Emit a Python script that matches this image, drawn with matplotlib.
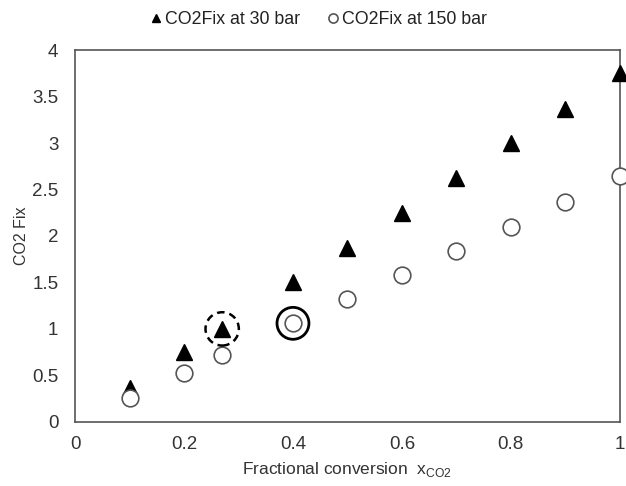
import matplotlib
matplotlib.use("Agg")
import matplotlib.pyplot as plt

plt.rcParams['font.family'] = ['Liberation Sans', 'DejaVu Sans']
plt.rcParams['mathtext.fontset'] = 'custom'
plt.rcParams['mathtext.rm'] = 'Liberation Sans'

x = [0.1, 0.2, 0.27, 0.4, 0.5, 0.6, 0.7, 0.8, 0.9, 1.0]
fix_30 = [0.36, 0.75, 1.0, 1.5, 1.87, 2.25, 2.62, 3.0, 3.37, 3.75]
fix_150 = [0.26, 0.53, 0.72, 1.06, 1.32, 1.58, 1.84, 2.1, 2.37, 2.64]
label_30 = "CO2Fix at 30 bar"
label_150 = "CO2Fix at 150 bar"
x_ticks = [0, 0.2, 0.4, 0.6, 0.8, 1]
x_ticklabels = ["0", "0.2", "0.4", "0.6", "0.8", "1"]
y_ticks = [0, 0.5, 1, 1.5, 2, 2.5, 3, 3.5, 4]
y_ticklabels = ["0", "0.5", "1", "1.5", "2", "2.5", "3", "3.5", "4"]
dashed_idx = 2   # highlighted point on 30 bar series
double_idx = 3   # highlighted point on 150 bar series

fig = plt.figure(figsize=(6.26, 4.86), dpi=100)
ax = fig.add_axes([0.12, 0.132, 0.87, 0.765])

ax.plot(x, fix_30, linestyle='none', marker='^', ms=11, color='black',
        label=label_30, clip_on=False, zorder=3)
ax.plot(x, fix_150, linestyle='none', marker='o', ms=12, markerfacecolor='white',
        markeredgecolor='#555555', markeredgewidth=1.2, label=label_150,
        clip_on=False, zorder=3)

# highlight marks
ax.scatter([x[dashed_idx]], [fix_30[dashed_idx]], s=(24)**2, facecolors='none',
           edgecolors='black', linewidths=1.8, linestyles=(0, (3, 2)), zorder=4)
ax.scatter([x[double_idx]], [fix_150[double_idx]], s=(23)**2, facecolors='none',
           edgecolors='black', linewidths=2.0, zorder=4)

ax.set_xlim(0, 1)
ax.set_ylim(0, 4)
ax.set_xticks(x_ticks)
ax.set_xticklabels(x_ticklabels)
ax.set_yticks(y_ticks)
ax.set_yticklabels(y_ticklabels)
ax.tick_params(length=0, labelsize=13.5, colors='#333333', pad=12)
ax.tick_params(axis='x', pad=10)
for s in ax.spines.values():
    s.set_color('#555555')
    s.set_linewidth(1.2)

ax.set_xlabel("Fractional conversion  x$_{\\mathrm{CO2}}$", fontsize=12.5, color='#333333', labelpad=5)
ax.set_ylabel("CO2 Fix", fontsize=11.5, color='#333333', labelpad=2)

handles, labels = ax.get_legend_handles_labels()
leg = fig.legend(handles[:2], labels[:2], loc='upper center', bbox_to_anchor=(0.51, 1.01),
                 ncol=2, frameon=False, fontsize=12.8, handlelength=0.5,
                 handletextpad=0.25, columnspacing=1.6, markerscale=0.55)
for t in leg.get_texts():
    t.set_color('#222222')

fig.savefig("out.png", dpi=100)
